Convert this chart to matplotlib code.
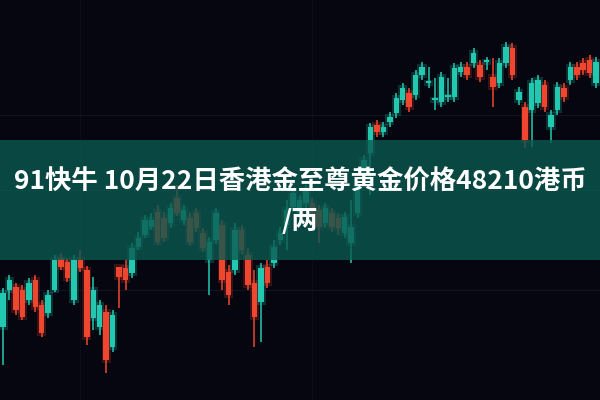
import numpy as np
import matplotlib
matplotlib.use('Agg')
import matplotlib.pyplot as plt
from matplotlib.patches import Rectangle

plt.rcParams['font.family'] = ['Noto Sans CJK SC', 'DejaVu Sans']

# candle data (price scale = 400 - pixel row)
opens = [73, 110, 113, 110, 100, 120, 95, 87, 110, 142, 138, 100, 140, 130, 82, 73, 88, 53,
         133, 132, 127, 153, 165, 173, 188, 182, 177, 202, 180, 182, 187, 167, 140, 160, 175,
         128, 130, 170, 145, 117, 98, 133, 137, 160, 175, 193, 187, 197, 197, 190, 177, 187,
         182, 167, 157, 187, 228, 247, 275, 268, 278, 287, 300, 307, 305, 325, 317, 300, 298,
         303, 303, 328, 333, 337, 335, 338, 323, 317, 337, 352, 300, 293, 290, 297, 315, 273,
         290, 312, 320, 333, 337, 340, 317]
closes = [107, 120, 90, 83, 117, 93, 67, 105, 140, 133, 122, 140, 132, 63, 110, 95, 40,
          85, 123, 120, 152, 162, 180, 180, 158, 162, 192, 187, 190, 158, 172, 152, 158, 187,
          120, 105, 170, 150, 115, 83, 132, 117, 153, 167, 190, 207, 200, 210, 182, 173, 192,
          173, 172, 183, 173, 213, 240, 273, 268, 273, 283, 302, 312, 293, 325, 333, 317, 300,
          323, 303, 332, 333, 325, 347, 323, 338, 313, 337, 353, 325, 308, 260, 317, 320, 293,
          285, 313, 303, 333, 325, 330, 327, 338]
highs = [112, 125, 117, 115, 122, 125, 100, 110, 145, 147, 142, 145, 150, 134, 123, 100, 95,
         90, 130, 140, 157, 168, 185, 187, 195, 188, 197, 215, 195, 188, 192, 172, 163, 192,
         180, 135, 177, 175, 152, 130, 137, 140, 160, 173, 200, 212, 205, 215, 202, 195, 197,
         192, 187, 188, 200, 218, 245, 277, 280, 278, 288, 307, 317, 312, 330, 338, 333, 322,
         328, 322, 337, 338, 338, 352, 340, 343, 342, 342, 358, 357, 313, 298, 322, 325, 320,
         290, 318, 317, 338, 338, 342, 345, 343]
lows = [35, 100, 85, 80, 95, 88, 63, 82, 108, 130, 118, 95, 128, 55, 70, 65, 27, 48, 92, 110,
        122, 150, 162, 170, 155, 158, 172, 184, 175, 154, 168, 148, 105, 156, 110, 95, 125, 145,
        110, 53, 58, 112, 132, 155, 150, 188, 182, 192, 178, 157, 172, 168, 165, 162, 137, 182,
        222, 205, 263, 263, 273, 282, 295, 288, 300, 320, 312, 290, 293, 298, 298, 323, 320, 332,
        318, 330, 293, 312, 332, 320, 295, 252, 253, 292, 288, 257, 285, 298, 315, 320, 325, 322,
        312]

title_line1 = '91快牛 10月22日香港金至尊黄金价格48210港币'
title_line2 = '/两'

up_col = '#22c9b0'
down_col = '#f0452e'
bg_col = '#05060f'

fig = plt.figure(figsize=(6, 4), dpi=100, facecolor=bg_col)
ax = fig.add_axes([0, 0, 1, 1])
ax.set_facecolor(bg_col)

# faint background grid like in the photo
for gy in [110, 210, 285]:
    ax.axhline(gy, color='#1a1d2c', lw=0.8, alpha=0.6, zorder=0)
for gx in [12, 48]:
    ax.axvline(gx, color='#11131f', lw=0.8, alpha=0.6, zorder=0)

w = 0.85
for i in range(len(opens)):
    o, c, h, l = opens[i], closes[i], highs[i], lows[i]
    col = up_col if c >= o else down_col
    lo, hi = min(o, c), max(o, c)
    # glow
    ax.add_patch(Rectangle((i - w * 0.85, lo - 3), w * 1.7, hi - lo + 6, color=col,
                           alpha=0.22, lw=0, zorder=1))
    ax.plot([i, i], [l, h], color=col, lw=1.3, alpha=0.85, zorder=2,
            solid_capstyle='butt')
    ax.add_patch(Rectangle((i - w / 2, lo), w, max(hi - lo, 2), color=col,
                           lw=0, zorder=3))

ax.set_xlim(-0.47, 92.6)
ax.set_ylim(0, 400)
ax.axis('off')

# banner over the chart
fig.patches.append(Rectangle((0, 0.35), 1, 0.30, transform=fig.transFigure,
                             facecolor='#0b5a50', alpha=0.8, lw=0, zorder=5))

fig.text(0.5, 1 - 182 / 400, title_line1, ha='center', va='center', color='white',
         fontsize=19, fontweight='bold', zorder=6)
fig.text(0.5, 1 - 221 / 400, title_line2, ha='center', va='center', color='white',
         fontsize=19, fontweight='bold', zorder=6)

plt.savefig('out.png', dpi=100, facecolor=bg_col)
